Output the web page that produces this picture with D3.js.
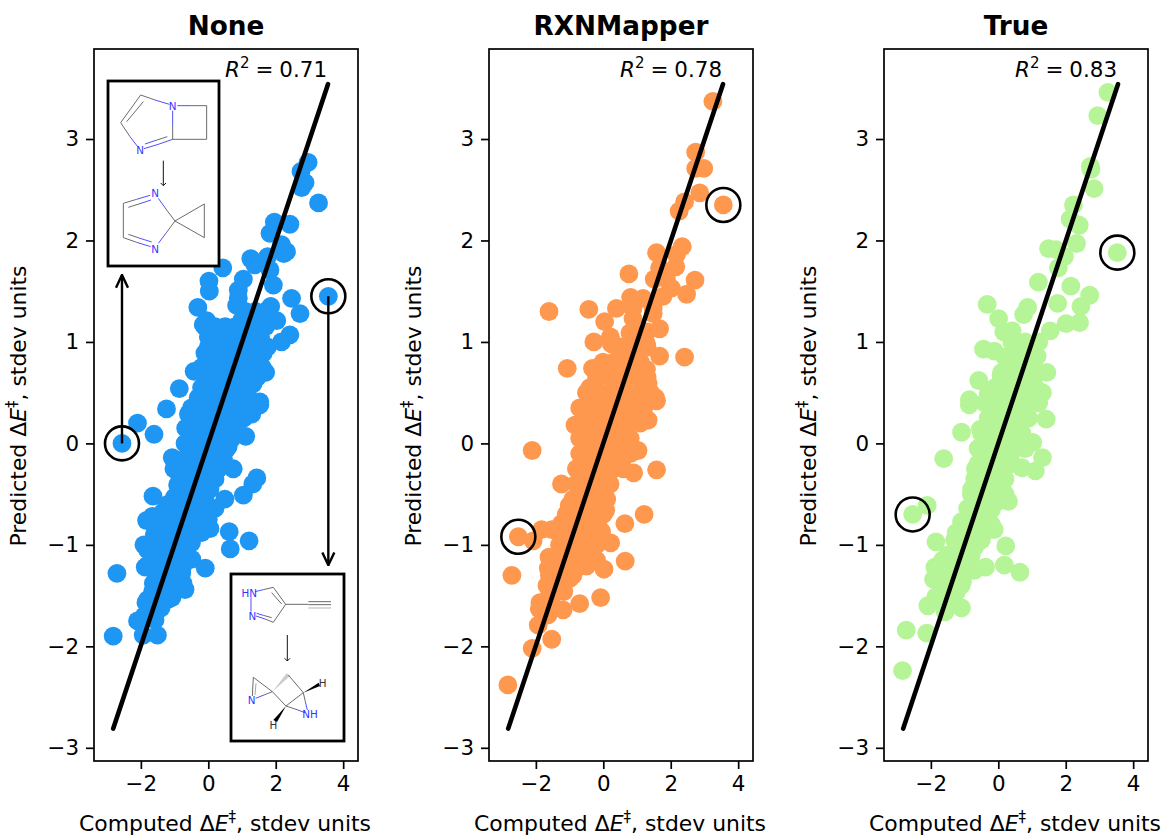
<!DOCTYPE html>
<html>
<head>
<meta charset="utf-8">
<script src="https://cdn.jsdelivr.net/npm/d3@7"></script>
<style>
    html, body { margin: 0; background: #fff; }
    text { font-family: "DejaVu Sans", sans-serif; fill: #000; }
</style>
</head>
<body>
<svg id="chart" width="1162" height="837"></svg>
<script>
var titles = ["None", "RXNMapper", "True"];
var r2Labels = ["0.71", "0.78", "0.83"];
var colors = ["#1e96f3", "#ff984f", "#b6f597"];
var xTicks = [-2, 0, 2, 4];
var yTicks = [-3, -2, -1, 0, 1, 2, 3];
var fitLine = [[-2.82, -2.81], [3.55, 3.54]];
var circled = [[-2.56, 0.0], [3.56, 1.45], [-2.52, -0.92], [3.56, 2.35], [-2.54, -0.70], [3.53, 1.88]];

var nonePoints = [
    [2.96,2.77],[2.75,2.68],[2.87,2.57],[2.77,2.52],[3.27,2.37],[1.96,2.18],[2.42,2.16],[1.83,2.07],[2.17,1.96],[2.32,1.89],
    [2.24,1.87],[1.76,1.84],[1.26,1.82],[0.43,1.73],[1.38,1.76],[1.83,1.71],[0.02,1.60],[0.03,1.50],[1.04,1.62],[1.93,1.56],
    [0.89,1.51],[0.89,1.43],[0.84,1.36],[2.47,1.43],[2.72,1.28],[3.56,1.45],[-0.31,1.34],[-0.05,1.21],[-0.15,1.17],[1.85,1.35],
    [2.03,1.21],[2.42,1.07],[2.17,1.00],[0.84,1.13],[0.30,1.10],[0.05,1.02],[-0.10,0.89],[1.63,0.89],[-0.42,0.71],[1.70,0.70],
    [1.33,0.59],[-0.86,0.54],[1.53,0.41],[-1.24,0.34],[-2.10,0.20],[-1.61,0.09],[-2.56,0.0],[-0.59,0.29],[1.53,0.38],[1.29,0.29],
    [1.11,0.07],[0.59,-0.03],[-0.67,0.15],[-0.69,0.0],[-1.07,-0.14],[-1.02,-0.25],[0.74,-0.25],[1.44,-0.34],[1.32,-0.40],[1.04,-0.51],
    [0.49,-0.55],[0.20,-0.64],[-0.91,-0.41],[-1.64,-0.52],[-1.23,-0.61],[-1.66,-0.72],[-1.83,-0.76],[0.05,-0.84],[0.62,-0.87],[1.21,-0.96],
    [0.65,-1.04],[-1.91,-1.00],[-0.20,-0.88],[-0.49,-1.14],[-0.09,-1.23],[-1.87,-1.22],[-2.71,-1.28],[-0.79,-1.27],[-1.63,-1.38],[-0.69,-1.44],
    [-1.08,-1.52],[-1.85,-1.57],[-1.58,-1.67],[-2.10,-1.75],[-1.93,-1.89],[-1.51,-1.89],[-2.82,-1.90],[-1.58,-1.74],
    [1.1,1.3],[1.4,1.3],[1.7,1.3],[1.0,1.22],[1.3,1.22],[1.6,1.22],
    [-0.1,1.15],[0.2,1.15],[0.5,1.15],[0.8,1.15],[1.1,1.15],[1.4,1.15],[1.7,1.15],
    [0.0,1.05],[0.35,1.05],[0.65,1.05],[0.95,1.05],[1.25,1.05],[1.55,1.05],
    [0.0,0.95],[0.3,0.95],[0.6,0.95],[0.9,0.95],[1.2,0.95],[1.5,0.95],[1.75,0.95],
    [0.1,0.85],[0.45,0.85],[0.75,0.85],[1.05,0.85],[1.35,0.85],
    [-0.2,0.75],[0.1,0.75],[0.4,0.75],[0.7,0.75],[1.0,0.75],[1.3,0.75],[1.6,0.75],
    [-0.05,0.65],[0.25,0.65],[0.55,0.65],[0.85,0.65],[1.15,0.65],[1.45,0.65],
    [-0.2,0.55],[0.1,0.55],[0.4,0.55],[0.7,0.55],[1.0,0.55],[1.2,0.55],
    [-0.3,0.45],[0.0,0.45],[0.3,0.45],[0.6,0.45],[0.9,0.45],[1.15,0.45],
    [-0.5,0.35],[-0.2,0.35],[0.1,0.35],[0.4,0.35],[0.7,0.35],[1.0,0.35],[1.2,0.35],
    [-0.45,0.25],[-0.1,0.25],[0.2,0.25],[0.5,0.25],[0.8,0.25],[1.05,0.25],
    [-0.6,0.15],[-0.3,0.15],[0.0,0.15],[0.3,0.15],[0.6,0.15],[0.8,0.15],
    [-0.45,0.05],[-0.15,0.05],[0.15,0.05],[0.45,0.05],[0.7,0.05],
    [-0.5,-0.05],[-0.2,-0.05],[0.1,-0.05],[0.4,-0.05],[0.55,-0.05],
    [-0.7,-0.15],[-0.4,-0.15],[-0.1,-0.15],[0.2,-0.15],[0.45,-0.15],
    [-0.9,-0.25],[-0.6,-0.25],[-0.3,-0.25],[0.0,-0.25],[0.3,-0.25],
    [-0.7,-0.35],[-0.4,-0.35],[-0.1,-0.35],[0.2,-0.35],
    [-0.85,-0.45],[-0.55,-0.45],[-0.25,-0.45],[0.05,-0.45],
    [-1.0,-0.53],[-0.7,-0.53],[-0.4,-0.53],[-0.1,-0.53],
    [-1.2,-0.6],[-0.9,-0.6],[-0.6,-0.6],[-0.3,-0.6],[-0.1,-0.6],
    [-1.35,-0.68],[-1.05,-0.68],[-0.75,-0.68],[-0.45,-0.68],[-0.15,-0.68],
    [-1.5,-0.75],[-1.2,-0.75],[-0.9,-0.75],[-0.6,-0.75],[-0.3,-0.75],[0.0,-0.75],
    [-1.45,-0.83],[-1.15,-0.83],[-0.85,-0.83],[-0.55,-0.83],[-0.3,-0.83],
    [-1.6,-0.9],[-1.3,-0.9],[-1.0,-0.9],[-0.7,-0.9],[-0.4,-0.9],
    [-1.65,-0.98],[-1.35,-0.98],[-1.05,-0.98],[-0.75,-0.98],[-0.5,-0.98],
    [-1.8,-1.05],[-1.5,-1.05],[-1.2,-1.05],[-0.9,-1.05],[-0.65,-1.05],
    [-1.65,-1.13],[-1.35,-1.13],[-1.05,-1.13],[-0.8,-1.13],
    [-1.8,-1.2],[-1.5,-1.2],[-1.2,-1.2],[-0.95,-1.2],[-0.75,-1.2],
    [-1.55,-1.29],[-1.25,-1.29],[-1.0,-1.29],[-0.8,-1.29],
    [-1.6,-1.38],[-1.3,-1.38],[-1.0,-1.38],[-0.75,-1.38],
    [-1.65,-1.46],[-1.35,-1.46],[-1.1,-1.46],
    [-1.8,-1.54],[-1.5,-1.54],[-1.2,-1.54],[-1.7,-1.62],[-1.4,-1.62],[-1.9,-1.7],[-1.6,-1.7]
];

var rxnPoints = [
    [3.25,3.37],[2.74,2.87],[2.74,2.71],[2.98,2.71],[2.86,2.47],[2.41,2.38],[2.25,2.29],[3.56,2.35],[2.34,1.94],[1.58,1.88],
    [2.17,1.86],[2.15,1.74],[1.67,1.73],[0.76,1.67],[1.51,1.62],[2.72,1.61],[2.02,1.53],[2.47,1.47],[1.87,1.62],[1.77,1.45],
    [0.81,1.44],[1.18,1.43],[0.39,1.33],[-0.43,1.32],[-1.61,1.30],[0.88,1.33],[1.48,1.33],[0.04,1.20],[1.48,1.28],[1.67,1.13],
    [0.88,1.23],[0.79,1.09],[0.21,1.05],[-0.28,1.00],[0.24,0.98],[1.28,0.98],[1.67,0.86],[2.41,0.85],[-0.01,0.80],[-1.07,0.74],
    [-0.32,0.74],[1.28,0.73],[-0.40,0.55],[1.33,0.59],[1.55,0.45],[1.58,0.42],[1.33,0.23],[-0.84,0.18],[-2.11,-0.07],[1.03,-0.07],
    [1.58,-0.26],[0.90,-0.29],[-0.70,-0.26],[-1.24,-0.40],[-1.01,-0.61],[0.07,-0.66],[1.21,-0.70],[0.64,-0.79],[-1.24,-0.79],[-1.83,-0.85],
    [-1.53,-0.85],[-0.05,-0.87],[0.22,-0.98],[-2.08,-0.96],[-2.52,-0.92],[-0.55,-1.02],[0.65,-1.16],[-0.20,-1.15],[0.02,-1.24],[-0.50,-1.21],
    [-1.61,-1.12],[-1.63,-1.23],[-2.71,-1.30],[-0.99,-1.33],[-1.67,-1.40],[-0.08,-1.52],[-1.17,-1.46],[-0.70,-1.58],[-1.19,-1.64],[-1.88,-1.57],
    [-1.90,-1.63],[-1.64,-1.69],[-1.93,-1.79],[-1.53,-1.93],[-2.11,-2.02],[-2.83,-2.38],
    [0.9,1.1],[1.3,1.1],[0.5,0.95],[0.9,0.95],[1.3,0.95],[0.3,0.8],[0.7,0.8],[1.1,0.8],[-0.2,0.65],[0.2,0.65],[0.6,0.65],[1.0,0.65],[1.3,0.65],
    [-0.5,0.5],[-0.1,0.5],[0.3,0.5],[0.7,0.5],[1.1,0.5],[1.4,0.5],[-0.7,0.35],[-0.3,0.35],[0.1,0.35],[0.5,0.35],[0.9,0.35],[1.2,0.35],
    [-0.7,0.2],[-0.3,0.2],[0.1,0.2],[0.5,0.2],[0.8,0.2],[1.1,0.2],[-0.7,0.05],[-0.3,0.05],[0.1,0.05],[0.5,0.05],[0.8,0.05],
    [-0.7,-0.1],[-0.3,-0.1],[0.1,-0.1],[0.4,-0.1],[0.8,-0.1],[-0.8,-0.25],[-0.4,-0.25],[0.0,-0.25],[0.3,-0.25],[0.6,-0.25],
    [-0.8,-0.4],[-0.5,-0.4],[-0.1,-0.4],[0.2,-0.4],[-0.9,-0.55],[-0.6,-0.55],[-0.2,-0.55],[0.1,-0.55],[-1.1,-0.7],[-0.7,-0.7],[-0.3,-0.7],[0.0,-0.7],
    [-1.1,-0.85],[-0.8,-0.85],[-0.4,-0.85],[-0.1,-0.85],[-1.3,-1.0],[-1.0,-1.0],[-0.6,-1.0],[-0.2,-1.0],[-1.4,-1.15],[-1.1,-1.15],[-0.8,-1.15],
    [-1.6,-1.3],[-1.2,-1.3],[-0.9,-1.3],[-1.6,-1.45],[-1.3,-1.45],[-1.7,-1.6],[-1.5,-1.6],
    [-0.5,0.27],[-0.1,0.27],[0.3,0.27],[0.7,0.27],[1.0,0.27],[-0.5,0.12],[-0.1,0.12],[0.3,0.12],[0.65,0.12],[-0.5,-0.03],[-0.1,-0.03],[0.3,-0.03],[0.65,-0.03],
    [-0.55,-0.18],[-0.2,-0.18],[0.2,-0.18],[0.5,-0.18],[-0.6,-0.33],[-0.25,-0.33],[0.1,-0.33],[-0.7,-0.48],[-0.35,-0.48],[0.0,-0.48],[-0.8,-0.63],[-0.45,-0.63],[-0.1,-0.63],
    [-0.9,-0.78],[-0.55,-0.78],[-0.2,-0.78],[-1.0,-0.93],[-0.7,-0.93],[-0.3,-0.93],[-1.2,-1.08],[-0.9,-1.08],[-0.5,-1.08],[-1.4,-1.23],[-1.1,-1.23],[-0.8,-1.23],[-1.5,-1.38],[-1.2,-1.38]
];

var truePoints = [
    [3.25,3.46],[2.95,3.23],[2.73,2.73],[2.75,2.70],[2.84,2.51],[2.23,2.35],[2.13,2.21],[2.40,2.15],[3.53,1.88],[2.32,1.97],
    [1.49,1.92],[1.71,1.91],[1.96,1.84],[1.78,1.73],[1.19,1.59],[2.15,1.55],[2.71,1.46],[2.45,1.35],[1.76,1.38],[0.87,1.34],
    [-0.33,1.37],[0.75,1.27],[0.01,1.23],[2.01,1.18],[2.41,1.19],[1.54,1.11],[0.41,1.11],[0.16,1.10],[-0.44,0.93],[-0.12,0.91],
    [1.15,0.86],[1.44,0.70],[0.08,0.67],[-0.58,0.62],[1.31,0.50],[-0.30,0.49],[-0.86,0.43],[-0.86,0.38],[1.42,0.24],[-1.09,0.11],
    [-0.53,0.14],[1.02,0.01],[-1.62,-0.15],[1.31,-0.14],[0.70,-0.24],[1.10,-0.27],[-0.68,-0.25],[-0.79,-0.45],[0.30,-0.57],[-2.11,-0.61],
    [-2.54,-0.70],[-0.91,-0.64],[-1.09,-0.77],[-0.12,-0.85],[-1.25,-0.88],[-1.85,-0.97],[0.22,-1.01],[-0.76,-0.94],[0.18,-1.20],[-0.38,-1.22],
    [0.64,-1.27],[-1.65,-1.15],[-1.88,-1.22],[-1.92,-1.34],[-1.06,-1.36],[-0.71,-1.25],[-1.85,-1.51],[-2.09,-1.60],[-1.09,-1.62],[-1.58,-1.66],
    [-2.73,-1.84],[-2.12,-1.87],[-2.84,-2.24],
    [0.4,1.0],[0.8,1.0],[1.2,1.0],[0.2,0.85],[0.6,0.85],[1.0,0.85],[0.1,0.7],[0.5,0.7],[0.9,0.7],[1.2,0.7],[-0.1,0.55],[0.3,0.55],[0.7,0.55],[1.1,0.55],
    [-0.4,0.4],[0.0,0.4],[0.4,0.4],[0.8,0.4],[1.2,0.4],[-0.3,0.25],[0.1,0.25],[0.5,0.25],[0.9,0.25],[-0.5,0.1],[-0.1,0.1],[0.3,0.1],[0.7,0.1],
    [-0.6,-0.05],[-0.2,-0.05],[0.2,-0.05],[0.5,-0.05],[0.8,-0.05],[-0.6,-0.2],[-0.2,-0.2],[0.2,-0.2],[0.4,-0.2],[-0.7,-0.35],[-0.4,-0.35],[0.0,-0.35],[0.2,-0.35],
    [-0.8,-0.5],[-0.4,-0.5],[-0.1,-0.5],[0.2,-0.5],[-0.8,-0.65],[-0.5,-0.65],[-0.2,-0.65],[-1.0,-0.8],[-0.6,-0.8],[-0.2,-0.8],[-1.3,-0.95],[-0.9,-0.95],[-0.5,-0.95],
    [-1.5,-1.1],[-1.1,-1.1],[-0.8,-1.1],[-1.6,-1.25],[-1.3,-1.25],[-1.0,-1.25],[-1.7,-1.4],[-1.3,-1.4],[-1.1,-1.4],[-1.7,-1.55],[-1.4,-1.55],
    [0.6,0.92],[0.3,0.77],[0.7,0.77],[0.1,0.62],[0.5,0.62],[0.9,0.62],[-0.1,0.47],[0.3,0.47],[0.7,0.47],[1.0,0.47],[-0.1,0.32],[0.3,0.32],[0.7,0.32],[-0.3,0.17],[0.1,0.17],[0.5,0.17],
    [-0.4,0.02],[0.0,0.02],[0.4,0.02],[-0.4,-0.12],[0.0,-0.12],[0.35,-0.12],[-0.5,-0.27],[-0.2,-0.27],[0.1,-0.27],[-0.6,-0.42],[-0.25,-0.42],[0.1,-0.42],[-0.6,-0.57],[-0.3,-0.57],[0.0,-0.57],
    [-0.7,-0.72],[-0.35,-0.72],[-0.8,-0.87],[-0.4,-0.87],[-1.1,-1.02],[-0.7,-1.02],[-1.3,-1.17],[-0.95,-1.17],[-1.5,-1.32],[-1.2,-1.32],[-1.5,-1.47],[-1.25,-1.47]
];
var panelPoints = [nonePoints, rxnPoints, truePoints];

var blue = "#3333ff", gray = "#555";

// molecule drawings, coordinates are local to each inset group
var molTopBonds = [
    [152,165,195,180,gray],[195,180,238,193,blue],[248,212,248,255,blue],[248,255,248,298,gray],[262,197,305,197,blue],[305,197,350,197,gray],[350,197,350,298,gray],
    [350,298,248,298,gray],[248,298,205,313,blue],[205,313,162,326,blue],[232,290,195,302,gray],[195,302,165,312,blue],[152,165,92,248,gray],
    [160,185,110,245,gray],[92,248,120,290,gray],[120,290,143,320,blue],
    [180,466,140,478,blue],[140,478,100,490,gray],[183,480,150,491,blue],[150,491,115,502,gray],[100,490,100,593,gray],[100,593,140,607,gray],
    [140,607,182,620,blue],[115,583,150,595,gray],[150,595,185,606,blue],[205,475,230,510,blue],[230,510,255,543,gray],[205,610,230,577,blue],
    [230,577,255,543,gray],[255,543,343,492,gray],[343,492,343,593,gray],[343,593,255,543,gray]
];
var molBottomBonds = [
    [105,95,130,89,blue],[130,89,160,82,gray],[160,82,197,133,gray],[155,98,185,132,gray],[197,133,160,187,gray],[160,187,135,177,gray],
    [135,177,108,168,blue],[155,173,130,166,gray],[130,166,110,160,blue],[93,112,93,155,blue],[197,133,265,133,gray],[265,125,333,125,gray],
    [265,134,333,134,gray],[265,144,333,144,"#aaa"],
    [100,352,157,395,gray],[100,352,97,408,gray],[108,370,105,405,"#999"],[107,415,132,405,blue],[132,405,157,395,gray],[157,395,198,438,gray],
    [198,438,250,398,gray],[250,398,205,345,gray],[198,438,228,448,gray],[228,448,255,458,blue],[250,398,256,425,gray],[256,425,262,450,blue]
];
var molBottomWedges = [
    ["157,395 200,340 210,348", "#ccc"],
    ["250,398 296,368 300,378", "#000"],
    ["198,438 160,480 171,486", "#000"]
];
var molTopLabels = [["N",248,198],["N",150,331],["N",195,461],["N",195,627]];
var molBottomLabels = [["HN",88,101,blue],["N",97,168,blue],["N",95,420,blue],["NH",270,464,blue],["H",308,371,"#333"],["H",160,495,"#333"]];

var svg = d3.select("#chart");

var margin = { left: 94, top: 49, width: 264, height: 712 };
var panelStep = 395;
var fontSize = 21.4;

var defs = svg.append("defs");
defs.append("marker")
    .attr("id", "head")
    .attr("viewBox", "0 0 10 10")
    .attr("refX", 9.5)
    .attr("refY", 5)
    .attr("markerUnits", "userSpaceOnUse")
    .attr("markerWidth", 15)
    .attr("markerHeight", 15)
    .attr("orient", "auto")
    .append("path")
    .attr("d", "M1,1 L9.5,5 L1,9")
    .attr("fill", "none")
    .attr("stroke", "#000")
    .attr("stroke-width", 1.6);

function drawPanel(i) {
    var left = margin.left + panelStep * i;

    var x = d3.scaleLinear().domain([-3.39, 4.44]).range([left, left + margin.width]);
    var y = d3.scaleLinear().domain([-3.13, 3.887]).range([margin.top + margin.height, margin.top]);

    var g = svg.append("g");

    g.append("g")
        .selectAll("circle")
        .data(panelPoints[i])
        .enter()
        .append("circle")
        .attr("cx", function (d) { return x(d[0]); })
        .attr("cy", function (d) { return y(d[1]); })
        .attr("r", 9.4)
        .attr("fill", colors[i]);

    var line = d3.line()
        .x(function (d) { return x(d[0]); })
        .y(function (d) { return y(d[1]); });

    g.append("path")
        .attr("d", line(fitLine))
        .attr("fill", "none")
        .attr("stroke", "#000")
        .attr("stroke-width", 4.6)
        .attr("stroke-linecap", "round");

    g.selectAll(".ring")
        .data(circled.slice(i * 2, i * 2 + 2))
        .enter()
        .append("circle")
        .attr("class", "ring")
        .attr("cx", function (d) { return x(d[0]); })
        .attr("cy", function (d) { return y(d[1]); })
        .attr("r", 17)
        .attr("fill", "none")
        .attr("stroke", "#000")
        .attr("stroke-width", 2.6);

    g.append("rect")
        .attr("x", left)
        .attr("y", margin.top)
        .attr("width", margin.width)
        .attr("height", margin.height)
        .attr("fill", "none")
        .attr("stroke", "#000")
        .attr("stroke-width", 1.7);

    var xAxis = d3.axisBottom(x).tickValues(xTicks).tickSize(8).tickPadding(7)
        .tickFormat(function (d) { return d3.format("d")(d).replace("-", "\u2212"); });
    var yAxis = d3.axisLeft(y).tickValues(yTicks).tickSize(8).tickPadding(7)
        .tickFormat(function (d) { return d3.format("d")(d).replace("-", "\u2212"); });

    var xg = g.append("g").attr("transform", "translate(0," + (margin.top + margin.height) + ")").call(xAxis);
    var yg = g.append("g").attr("transform", "translate(" + left + ",0)").call(yAxis);
    [xg, yg].forEach(function (a) {
        a.select(".domain").remove();
        a.selectAll("line").attr("stroke", "#000").attr("stroke-width", 1.7);
        a.selectAll("text").attr("font-size", fontSize).attr("font-family", "DejaVu Sans").attr("fill", "#000");
    });

    g.append("text")
        .attr("x", left + margin.width / 2)
        .attr("y", 35)
        .attr("text-anchor", "middle")
        .attr("font-size", 26.3)
        .attr("font-weight", "bold")
        .text(titles[i]);

    var r2 = g.append("text")
        .attr("x", left + 233)
        .attr("y", 77)
        .attr("text-anchor", "end")
        .attr("font-size", fontSize);
    r2.append("tspan").attr("font-style", "italic").text("R");
    r2.append("tspan").attr("dy", -9).attr("font-size", 15).text("2");
    r2.append("tspan").attr("dy", 9).attr("dx", 6).text("=");
    r2.append("tspan").attr("dx", 6).text(r2Labels[i]);

    label(g.append("text")
        .attr("x", left + margin.width / 2 - 1)
        .attr("y", 831)
        .attr("text-anchor", "middle"), "Computed");

    label(g.append("text")
        .attr("transform", "translate(" + (left - 68) + "," + (margin.top + margin.height / 2 + 1) + ") rotate(-90)")
        .attr("text-anchor", "middle"), "Predicted");
}

function label(text, word) {
    text.attr("font-size", 21.9);
    text.append("tspan").text(word + " \u0394");
    text.append("tspan").attr("font-style", "italic").text("E");
    text.append("tspan").attr("dy", -9).attr("font-size", 15).text("\u2021");
    text.append("tspan").attr("dy", 9).text(", stdev units");
}

function drawMolecule(left, top, bonds, wedges, labels, arrow) {
    var g = svg.append("g").attr("transform", "translate(" + left + "," + top + ") scale(0.3333)");

    g.selectAll("polygon")
        .data(wedges)
        .enter()
        .append("polygon")
        .attr("points", function (d) { return d[0]; })
        .attr("fill", function (d) { return d[1]; });

    g.selectAll("line.bond")
        .data(bonds)
        .enter()
        .append("line")
        .attr("class", "bond")
        .attr("x1", function (d) { return d[0]; })
        .attr("y1", function (d) { return d[1]; })
        .attr("x2", function (d) { return d[2]; })
        .attr("y2", function (d) { return d[3]; })
        .attr("stroke", function (d) { return d[4]; })
        .attr("stroke-width", 2.6);

    g.selectAll("text")
        .data(labels)
        .enter()
        .append("text")
        .attr("x", function (d) { return d[1]; })
        .attr("y", function (d) { return d[2]; })
        .attr("dy", "0.36em")
        .attr("text-anchor", "middle")
        .attr("font-size", 31)
        .style("fill", function (d) { return d[3] || blue; })
        .text(function (d) { return d[0]; });

    // small reaction arrow between the two structures
    g.append("path")
        .attr("d", "M" + arrow[0] + "," + arrow[1] + " L" + arrow[0] + "," + arrow[2] +
            " M" + (arrow[0] - 8) + "," + (arrow[2] - 8) + " L" + arrow[0] + "," + arrow[2] + " L" + (arrow[0] + 8) + "," + (arrow[2] - 8))
        .attr("fill", "none")
        .attr("stroke", "#111")
        .attr("stroke-width", 3);
}

function drawInsets() {
    var x = d3.scaleLinear().domain([-3.39, 4.44]).range([margin.left, margin.left + margin.width]);
    var y = d3.scaleLinear().domain([-3.13, 3.887]).range([margin.top + margin.height, margin.top]);

    var arrows = [[circled[0], [circled[0][0], 1.66]], [circled[1], [circled[1][0], -1.2]]];
    svg.selectAll("line.jump")
        .data(arrows)
        .enter()
        .append("line")
        .attr("class", "jump")
        .attr("x1", function (d) { return x(d[0][0]); })
        .attr("y1", function (d) { return y(d[0][1]); })
        .attr("x2", function (d) { return x(d[1][0]); })
        .attr("y2", function (d) { return y(d[1][1]); })
        .attr("stroke", "#000")
        .attr("stroke-width", 2.4)
        .attr("marker-end", "url(#head)");

    svg.selectAll("rect.inset")
        .data([[108, 81, 111, 185], [231, 574, 113, 167]])
        .enter()
        .append("rect")
        .attr("class", "inset")
        .attr("x", function (d) { return d[0]; })
        .attr("y", function (d) { return d[1]; })
        .attr("width", function (d) { return d[2]; })
        .attr("height", function (d) { return d[3]; })
        .attr("fill", "#fff")
        .attr("stroke", "#000")
        .attr("stroke-width", 2.8);

    drawMolecule(90, 40, molTopBonds, [], molTopLabels, [220, 362, 437]);
    drawMolecule(220, 560, molBottomBonds, molBottomWedges, molBottomLabels, [202, 225, 303]);
}

titles.forEach(function (t, i) { drawPanel(i); });
drawInsets();
</script>
</body>
</html>
